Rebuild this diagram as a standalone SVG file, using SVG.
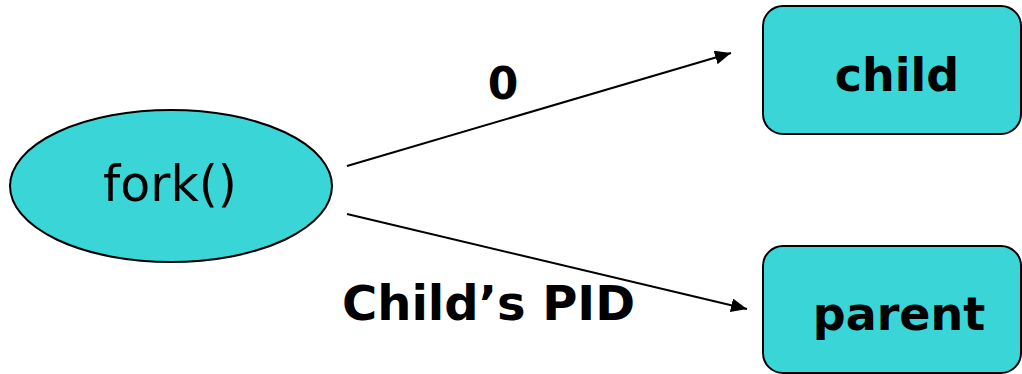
<svg xmlns="http://www.w3.org/2000/svg" width="1022" height="374" viewBox="0 0 1022 374">
  <style>
    .shape { fill: #3AD5D6; stroke: #000; stroke-width: 2; }
    .lbl { font-family: "DejaVu Sans", Verdana, sans-serif; fill: #000; }
    .b { font-weight: bold; }
    .conn { stroke: #000; stroke-width: 2; fill: none; }
  </style>
  <defs>
    <marker id="arrow" markerUnits="userSpaceOnUse" markerWidth="18" markerHeight="14" refX="16" refY="7" orient="auto">
      <path d="M0,0 L16,7 L0,14 Z" fill="#000"/>
    </marker>
  </defs>
  <rect width="1022" height="374" fill="#fff"/>
  <g id="fork">
    <ellipse class="shape" cx="171" cy="186" rx="161" ry="76"/>
    <text class="lbl" x="170" y="201" font-size="49" text-anchor="middle">fork()</text>
  </g>
  <g id="child">
    <rect class="shape" x="763" y="6" width="258" height="128" rx="20" ry="20"/>
    <text class="lbl b" x="897" y="91" font-size="46" text-anchor="middle">child</text>
  </g>
  <g id="parent">
    <rect class="shape" x="763" y="246" width="258" height="127" rx="20" ry="20"/>
    <text class="lbl b" x="899" y="330" font-size="46" text-anchor="middle">parent</text>
  </g>
  <g id="connectors">
    <line class="conn" x1="347" y1="166" x2="731" y2="53" marker-end="url(#arrow)"/>
    <line class="conn" x1="347" y1="214" x2="747" y2="309" marker-end="url(#arrow)"/>
    <text class="lbl b" x="503" y="99" font-size="44" text-anchor="middle">0</text>
    <text class="lbl b" x="342" y="320" font-size="48">Child’s PID</text>
  </g>
</svg>
